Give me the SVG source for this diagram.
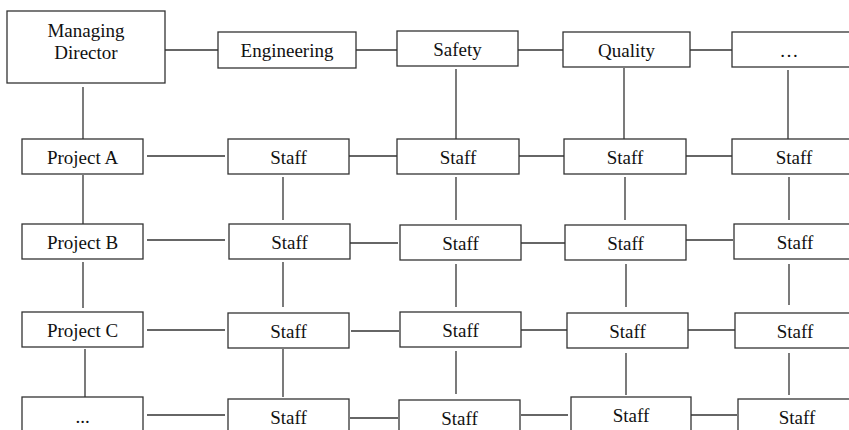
<svg xmlns="http://www.w3.org/2000/svg" width="849" height="430" viewBox="0 0 849 430">
<style>
.b{fill:#fff;stroke:#333;stroke-width:1.3}
.t{font-family:"Liberation Serif","Times New Roman",serif;font-size:19px;fill:#111;text-anchor:middle}
.c line{stroke:#333;stroke-width:1.3}
</style>
<rect width="849" height="430" fill="#fff"/>
<g class="c" id="connectors">
<line x1="165" y1="50" x2="218" y2="50"/>
<line x1="356" y1="50" x2="397" y2="50"/>
<line x1="515" y1="50" x2="563" y2="50"/>
<line x1="690" y1="50" x2="732" y2="50"/>
<line x1="83" y1="87" x2="83" y2="139"/>
<line x1="456" y1="69" x2="456" y2="139"/>
<line x1="624" y1="68" x2="624" y2="139"/>
<line x1="788" y1="70" x2="788" y2="139"/>
<line x1="147" y1="156" x2="225" y2="156"/>
<line x1="349" y1="156" x2="397" y2="156"/>
<line x1="519" y1="156" x2="564" y2="156"/>
<line x1="686" y1="156" x2="732" y2="156"/>
<line x1="83" y1="175" x2="83" y2="224"/>
<line x1="283" y1="177" x2="283" y2="220"/>
<line x1="456" y1="177" x2="456" y2="220"/>
<line x1="625" y1="177" x2="625" y2="220"/>
<line x1="789" y1="177" x2="789" y2="220"/>
<line x1="147" y1="240" x2="225" y2="240"/>
<line x1="350" y1="243" x2="398" y2="243"/>
<line x1="520" y1="243" x2="568" y2="243"/>
<line x1="684" y1="240" x2="733" y2="240"/>
<line x1="83" y1="262" x2="83" y2="308"/>
<line x1="283" y1="262" x2="283" y2="307"/>
<line x1="456" y1="264" x2="456" y2="307"/>
<line x1="626" y1="264" x2="626" y2="307"/>
<line x1="789" y1="264" x2="789" y2="305"/>
<line x1="147" y1="330" x2="225" y2="330"/>
<line x1="351" y1="331" x2="399" y2="331"/>
<line x1="519" y1="330" x2="567" y2="330"/>
<line x1="686" y1="330" x2="735" y2="330"/>
<line x1="85" y1="349" x2="85" y2="397"/>
<line x1="283" y1="349" x2="283" y2="397"/>
<line x1="456" y1="351" x2="456" y2="394"/>
<line x1="626" y1="353" x2="626" y2="395"/>
<line x1="789" y1="353" x2="789" y2="395"/>
<line x1="147" y1="415" x2="225" y2="415"/>
<line x1="350" y1="418" x2="398" y2="418"/>
<line x1="521" y1="415" x2="568" y2="415"/>
<line x1="689" y1="415" x2="737" y2="415"/>
</g>
<g id="managing-director"><rect class="b" x="7" y="11" width="158" height="72"/><text class="t" x="86" y="37">Managing</text><text class="t" x="86" y="59">Director</text></g>
<g id="engineering"><rect class="b" x="218" y="32" width="138" height="36"/><text class="t" x="287" y="57">Engineering</text></g>
<g id="safety"><rect class="b" x="397" y="31" width="121" height="35"/><text class="t" x="457.5" y="56">Safety</text></g>
<g id="quality"><rect class="b" x="563" y="32" width="127" height="35"/><text class="t" x="626.5" y="57">Quality</text></g>
<g id="dept-more"><rect class="b" x="732" y="32" width="124" height="35"/><text class="t" x="789" y="57">…</text></g>

<g id="project-a"><rect class="b" x="22" y="139" width="121" height="35"/><text class="t" x="82.5" y="164">Project A</text></g>
<g id="staff-a1"><rect class="b" x="228" y="139" width="121" height="35"/><text class="t" x="288.5" y="164">Staff</text></g>
<g id="staff-a2"><rect class="b" x="397" y="139" width="122" height="35"/><text class="t" x="458" y="164">Staff</text></g>
<g id="staff-a3"><rect class="b" x="564" y="139" width="122" height="35"/><text class="t" x="625" y="164">Staff</text></g>
<g id="staff-a4"><rect class="b" x="732" y="139" width="124" height="35"/><text class="t" x="794" y="164">Staff</text></g>

<g id="project-b"><rect class="b" x="22" y="224" width="121" height="35"/><text class="t" x="82.5" y="249">Project B</text></g>
<g id="staff-b1"><rect class="b" x="229" y="224" width="121" height="35"/><text class="t" x="289.5" y="249">Staff</text></g>
<g id="staff-b2"><rect class="b" x="400" y="225" width="121" height="35"/><text class="t" x="460.5" y="250">Staff</text></g>
<g id="staff-b3"><rect class="b" x="565" y="225" width="121" height="35"/><text class="t" x="625.5" y="250">Staff</text></g>
<g id="staff-b4"><rect class="b" x="734" y="224" width="122" height="35"/><text class="t" x="795" y="249">Staff</text></g>

<g id="project-c"><rect class="b" x="22" y="312" width="121" height="35"/><text class="t" x="82.5" y="337">Project C</text></g>
<g id="staff-c1"><rect class="b" x="228" y="313" width="121" height="35"/><text class="t" x="288.5" y="338">Staff</text></g>
<g id="staff-c2"><rect class="b" x="400" y="312" width="121" height="35"/><text class="t" x="460.5" y="337">Staff</text></g>
<g id="staff-c3"><rect class="b" x="567" y="313" width="121" height="35"/><text class="t" x="627.5" y="338">Staff</text></g>
<g id="staff-c4"><rect class="b" x="735" y="313" width="121" height="35"/><text class="t" x="795" y="338">Staff</text></g>

<g id="project-more"><rect class="b" x="22" y="397" width="121" height="40"/><text class="t" x="82.5" y="423">...</text></g>
<g id="staff-d1"><rect class="b" x="228" y="399" width="121" height="40"/><text class="t" x="288.5" y="424">Staff</text></g>
<g id="staff-d2"><rect class="b" x="399" y="400" width="121" height="40"/><text class="t" x="459.5" y="425">Staff</text></g>
<g id="staff-d3"><rect class="b" x="571" y="397" width="120" height="40"/><text class="t" x="631" y="422">Staff</text></g>
<g id="staff-d4"><rect class="b" x="738" y="399" width="120" height="40"/><text class="t" x="797" y="424">Staff</text></g>
</svg>
